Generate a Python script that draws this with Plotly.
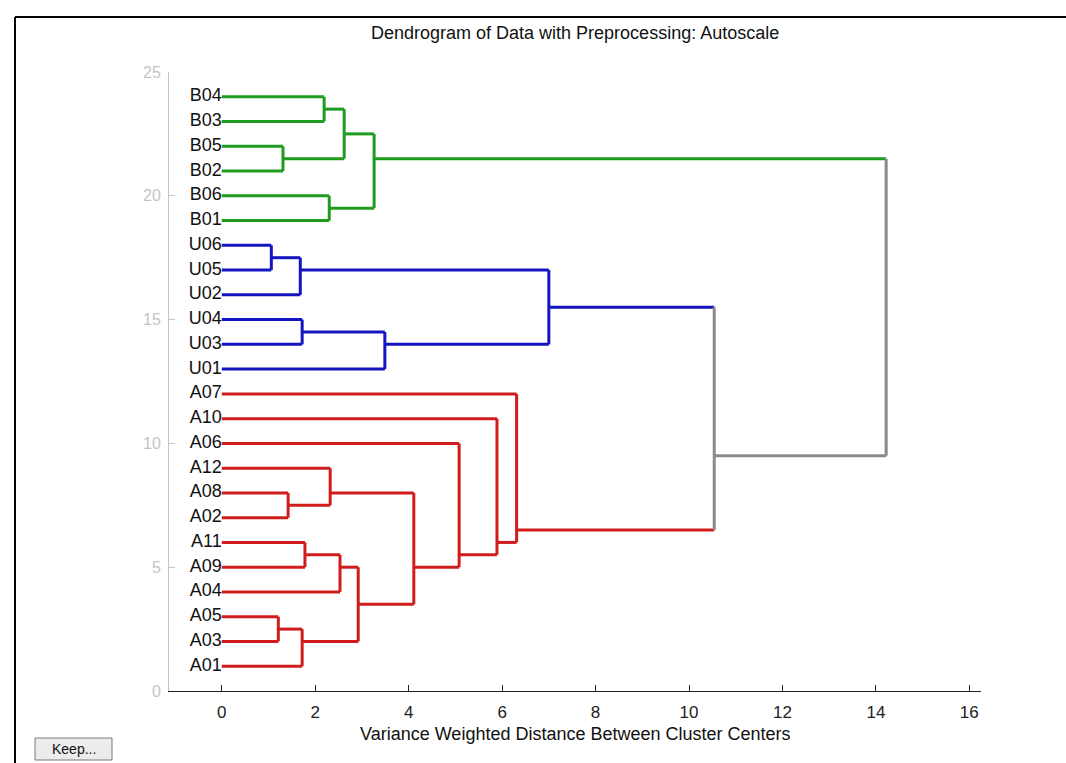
import plotly.graph_objects as go

# leaves, top to bottom
leaves = ["B04", "B03", "B05", "B02", "B06", "B01",
          "U06", "U05", "U02", "U04", "U03", "U01",
          "A07", "A10", "A06", "A12", "A08", "A02",
          "A11", "A09", "A04", "A05", "A03", "A01"]

# linkage: node ids >= 100 refer to earlier merges (100 = first merge)
merge_left = ["B04", "B05", 100, "B06", 102, "U06", 105, "U04", 107, 106,
              "A05", 110, "A11", 112, 113, "A08", "A12", 116, "A06", "A10", "A07", 109, 104]
merge_right = ["B03", "B02", 101, "B01", 103, "U05", "U02", "U03", "U01", 108,
               "A03", "A01", "A09", "A04", 111, "A02", 115, 114, 117, 118, 119, 120, 121]
merge_dist = [2.19, 1.31, 2.62, 2.30, 3.26, 1.06, 1.68, 1.72, 3.49, 7.00,
              1.21, 1.72, 1.78, 2.53, 2.92, 1.42, 2.32, 4.11, 5.08, 5.89, 6.31, 10.54, 14.22]

group_colors = {"B": "#1f9c1f", "U": "#1414c0", "A": "#d01c1c", "mix": "#8a8a8a"}

title = "Dendrogram of Data with Preprocessing: Autoscale"
x_title = "Variance Weighted Distance Between Cluster Centers"

# ---- build the dendrogram segments ----
n = len(leaves)
pos = {name: n - i for i, name in enumerate(leaves)}
members = {name: [name] for name in leaves}
height = {name: 0.0 for name in leaves}
color = {name: group_colors[name[0]] for name in leaves}

segs = {}  # color -> (xs, ys)


def add(c, xs, ys):
    sx, sy = segs.setdefault(c, ([], []))
    sx.extend(xs + [None])
    sy.extend(ys + [None])


for k, (a, b, d) in enumerate(zip(merge_left, merge_right, merge_dist)):
    node = 100 + k
    mem = members[a] + members[b]
    members[node] = mem
    pos[node] = sum(pos[m] for m in mem) / len(mem)
    height[node] = d
    groups = {m[0] for m in mem}
    color[node] = group_colors[groups.pop()] if len(groups) == 1 else group_colors["mix"]
    for ch in (a, b):
        add(color[ch], [height[ch], d], [pos[ch], pos[ch]])
    add(color[node], [d, d], [pos[a], pos[b]])

fig = go.Figure()
for c, (sx, sy) in segs.items():
    fig.add_trace(go.Scatter(x=sx, y=sy, mode="lines",
                             line=dict(color=c, width=3), hoverinfo="skip"))

fig.add_trace(go.Scatter(
    x=[0] * n, y=[pos[l] for l in leaves], text=leaves,
    mode="text", textposition="middle left",
    textfont=dict(size=18, color="#111111"), cliponaxis=False))

# geometry helpers (pixel -> paper)
L, R, T, B = 169, 85, 72, 72
W, H = 1066, 763
pw, ph = W - L - R, H - T - B


def px(x):
    return (x - L) / pw


def py(y):
    return (H - B - y) / ph


font = "Liberation Sans, Arial, sans-serif"

fig.update_layout(
    width=W, height=H,
    margin=dict(l=L, r=R, t=T, b=B),
    plot_bgcolor="white", paper_bgcolor="white",
    showlegend=False,
    font=dict(family=font, size=17, color="#222222"),
    xaxis=dict(range=[-1.13, 16.25], tickvals=list(range(0, 17, 2)),
               ticks="inside", ticklen=6, tickcolor="#222222",
               showline=True, linecolor="#222222", linewidth=1,
               showgrid=False, zeroline=False, ticklabelstandoff=6,
               tickfont=dict(size=17, color="#222222")),
    yaxis=dict(range=[0, 25], tickvals=list(range(0, 26, 5)),
               ticks="inside", ticklen=6, tickcolor="#c4c4c4",
               showline=True, linecolor="#c4c4c4", linewidth=1,
               showgrid=False, zeroline=False, ticklabelstandoff=4,
               tickfont=dict(size=16, color="#c4c4c4")),
    annotations=[
        dict(text=title, x=0.5, y=py(33), xref="paper", yref="paper",
             yanchor="middle", showarrow=False, font=dict(size=18, color="#111111")),
        dict(text=x_title, x=0.5, y=py(734), xref="paper", yref="paper",
             yanchor="middle", showarrow=False, font=dict(size=18, color="#111111")),
        dict(text="Keep...", x=px(73.5), y=py(749), xref="paper", yref="paper",
             xanchor="center", yanchor="middle", showarrow=False,
             font=dict(size=14, color="#111111")),
    ],
    shapes=[
        # window frame
        dict(type="line", xref="paper", yref="paper",
             x0=px(15), x1=px(1066), y0=py(17), y1=py(17),
             line=dict(color="black", width=2)),
        dict(type="line", xref="paper", yref="paper",
             x0=px(15), x1=px(15), y0=py(17), y1=py(763),
             line=dict(color="black", width=2)),
        # Keep button
        dict(type="rect", xref="paper", yref="paper",
             x0=px(35), x1=px(112), y0=py(738), y1=py(760),
             fillcolor="#ececec", line=dict(color="#7a7a7a", width=1)),
    ],
)

fig.write_html("out.html", config={"displayModeBar": False},
               post_script="document.body.style.margin='0px';")
